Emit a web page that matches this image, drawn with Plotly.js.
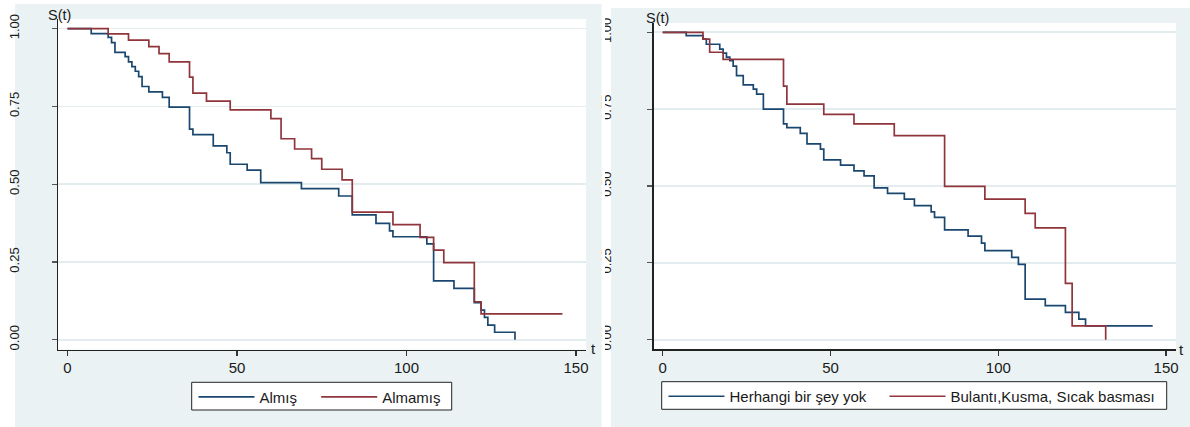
<!DOCTYPE html>
<html>
<head>
<meta charset="utf-8">
<script src="https://cdn.plot.ly/plotly-3.0.1.min.js"></script>
<style>
  html, body { margin: 0; padding: 0; background: #ffffff; }
  #chart { width: 1190px; height: 427px; }
</style>
</head>
<body>
<div id="chart"></div>
<script>
// Kaplan-Meier survival estimates, S(t) by group

// Left panel: Almış / Almamış
const almisT = [0, 7, 12, 13, 14, 17, 18, 19, 20, 21, 22, 24, 28, 30, 36, 37, 43, 47, 48, 53, 57, 69, 80, 84, 91, 95, 96, 106, 108, 114, 120, 122, 123, 124, 126, 132];
const almisS = [1, 0.984, 0.972, 0.955, 0.924, 0.910, 0.893, 0.878, 0.863, 0.846, 0.814, 0.797, 0.779, 0.748, 0.677, 0.659, 0.623, 0.601, 0.564, 0.545, 0.505, 0.486, 0.462, 0.401, 0.374, 0.350, 0.331, 0.308, 0.189, 0.165, 0.119, 0.095, 0.072, 0.047, 0.024, 0];

const almamisT = [0, 12, 18, 24, 27, 30, 36, 37, 41, 48, 60, 63, 67, 72, 75, 81, 84, 96, 104, 108, 111, 120, 122, 146];
const almamisS = [1, 0.983, 0.963, 0.942, 0.920, 0.893, 0.844, 0.793, 0.767, 0.739, 0.711, 0.646, 0.613, 0.582, 0.548, 0.514, 0.410, 0.370, 0.329, 0.288, 0.248, 0.122, 0.083, 0.083];

// Right panel: Herhangi bir şey yok / Bulantı,Kusma, Sıcak basması
const yokT = [0, 7, 12, 13, 17, 18, 19, 20, 21, 22, 24, 27, 28, 30, 36, 37, 41, 43, 47, 48, 53, 57, 60, 63, 67, 72, 75, 80, 81, 84, 91, 95, 96, 104, 106, 108, 114, 120, 124, 126, 146];
const yokS = [1, 0.989, 0.978, 0.961, 0.945, 0.932, 0.919, 0.908, 0.890, 0.859, 0.829, 0.815, 0.799, 0.750, 0.702, 0.690, 0.671, 0.637, 0.620, 0.585, 0.568, 0.549, 0.533, 0.494, 0.476, 0.457, 0.436, 0.416, 0.398, 0.357, 0.337, 0.314, 0.290, 0.268, 0.245, 0.132, 0.111, 0.089, 0.067, 0.045, 0.045];

const bulantiT = [0, 12, 14, 18, 36, 37, 48, 57, 69, 84, 96, 108, 111, 120, 122, 132];
const bulantiS = [1, 0.978, 0.935, 0.912, 0.825, 0.766, 0.733, 0.702, 0.664, 0.499, 0.457, 0.411, 0.364, 0.183, 0.045, 0];

const seriesNames = ['Almış', 'Almamış', 'Herhangi bir şey yok', 'Bulantı,Kusma, Sıcak basması'];

const xTicks = [0, 50, 100, 150];
const yTicks = [0, 0.25, 0.5, 0.75, 1];
const yTickText = ['0.00', '0.25', '0.50', '0.75', '1.00'];

const NAVY = '#1a476f';
const MAROON = '#90353b';
const PANEL_BG = '#eaf2f3';
const FONT = 'Arial, "Liberation Sans", sans-serif';

const W = 1190, H = 427;
const px = v => v / W;
const py = v => (H - v) / H;

function stepTrace(x, y, name, color, xa, ya, legend) {
  return {
    type: 'scatter', mode: 'lines', x: x, y: y, name: name,
    line: { shape: 'hv', color: color, width: 1.7 },
    xaxis: xa, yaxis: ya, legend: legend, hoverinfo: 'skip'
  };
}

const traces = [
  stepTrace(almisT, almisS, seriesNames[0], NAVY, 'x', 'y', 'legend'),
  stepTrace(almamisT, almamisS, seriesNames[1], MAROON, 'x', 'y', 'legend2'),
  stepTrace(yokT, yokS, seriesNames[2], NAVY, 'x2', 'y2', 'legend3'),
  stepTrace(bulantiT, bulantiS, seriesNames[3], MAROON, 'x2', 'y2', 'legend4')
];

function xAxis(domain, range, anchor) {
  return {
    domain: domain, range: range, anchor: anchor,
    tickmode: 'array', tickvals: xTicks, ticks: 'outside', ticklen: 5, tickwidth: 1.2, tickcolor: '#333',
    showline: true, linecolor: '#222', linewidth: 1.3, showgrid: false, zeroline: false,
    ticklabelstandoff: -1,
    tickfont: { family: FONT, size: 15, color: '#1a1a1a' }, fixedrange: true
  };
}
function yAxis(domain, range, anchor, standoff) {
  return {
    domain: domain, range: range, anchor: anchor,
    tickmode: 'array', tickvals: yTicks, ticktext: yTickText, tickangle: -90,
    ticks: 'outside', ticklen: 5, tickwidth: 1.2, tickcolor: '#555',
    showline: true, linecolor: '#222', linewidth: 1.3,
    showgrid: true, gridcolor: '#e3ecef', gridwidth: 1.6, zeroline: false,
    ticklabelstandoff: standoff,
    tickfont: { family: FONT, size: 13, color: '#1a1a1a' }, fixedrange: true
  };
}

// one legend entry per series; the framed boxes are drawn as shapes
function legendEntry(lineStart, lineY) {
  return {
    x: px(lineStart - 5.5), y: py(lineY - 15.7), xanchor: 'left', yanchor: 'top', orientation: 'h',
    bgcolor: 'rgba(0,0,0,0)', borderwidth: 0,
    font: { family: FONT, size: 15, color: '#1a1a1a' }, itemwidth: 56
  };
}

function frame(x0, x1, y0, y1) {
  return { type: 'rect', layer: 'above', xref: 'paper', yref: 'paper', x0: px(x0), x1: px(x1), y0: py(y1), y1: py(y0),
           fillcolor: '#ffffff', line: { color: '#222', width: 1 } };
}

const layout = {
  width: W, height: H,
  margin: { l: 0, r: 0, t: 0, b: 0 },
  paper_bgcolor: '#ffffff', plot_bgcolor: 'rgba(255,255,255,1)',
  font: { family: FONT, size: 15, color: '#1a1a1a' },
  xaxis: xAxis([px(58), px(586)], [-2.80, 152.95], 'y'),
  yaxis: yAxis([py(349.5), py(19)], [-0.0315, 1.031], 'x', 28),
  xaxis2: xAxis([px(653.7), px(1176)], [-2.68, 152.95], 'y2'),
  yaxis2: yAxis([py(349.3), py(23)], [-0.0312, 1.0302], 'x2', 31),
  showlegend: true,
  legend: legendEntry(199, 396.3),
  legend2: legendEntry(321.7, 396.3),
  legend3: legendEntry(669, 395.7),
  legend4: legendEntry(890, 395.7),
  shapes: [
    // panel backgrounds
    { type: 'rect', layer: 'below', xref: 'paper', yref: 'paper', x0: px(15), x1: px(601.7), y0: 0, y1: py(4), fillcolor: PANEL_BG, line: { width: 0 } },
    { type: 'rect', layer: 'below', xref: 'paper', yref: 'paper', x0: px(611), x1: 1, y0: 0, y1: py(8), fillcolor: PANEL_BG, line: { width: 0 } },
    // white plot regions
    { type: 'rect', layer: 'below', xref: 'x domain', yref: 'y domain', x0: 0, x1: 1, y0: 0, y1: 1, fillcolor: '#ffffff', line: { width: 0 } },
    { type: 'rect', layer: 'below', xref: 'x2 domain', yref: 'y2 domain', x0: 0, x1: 1, y0: 0, y1: 1, fillcolor: '#ffffff', line: { width: 0 } },
    // trimmed edges of the panels
    { type: 'rect', layer: 'above', xref: 'paper', yref: 'paper', x0: 0, x1: px(8.2), y0: 0, y1: 1, fillcolor: '#ffffff', line: { width: 0 } },
    { type: 'rect', layer: 'above', xref: 'paper', yref: 'paper', x0: px(601.8), x1: px(605), y0: 0, y1: 1, fillcolor: '#ffffff', line: { width: 0 } },
    // legend frames
    frame(191.7, 451.7, 382.3, 410),
    frame(661.7, 1166.7, 381.7, 409.3)
  ],
  annotations: [
    { text: 'S(t)', xref: 'paper', yref: 'paper', x: px(46), y: py(15), xanchor: 'left', yanchor: 'middle', showarrow: false, font: { family: FONT, size: 14.5, color: '#1a1a1a' } },
    { text: 't', xref: 'paper', yref: 'paper', x: px(588.5), y: py(348), xanchor: 'left', yanchor: 'middle', showarrow: false, font: { family: FONT, size: 15, color: '#1a1a1a' } },
    { text: 'S(t)', xref: 'paper', yref: 'paper', x: px(643.5), y: py(18.3), xanchor: 'left', yanchor: 'middle', showarrow: false, font: { family: FONT, size: 14.5, color: '#1a1a1a' } },
    { text: 't', xref: 'paper', yref: 'paper', x: px(1177), y: py(349), xanchor: 'left', yanchor: 'middle', showarrow: false, font: { family: FONT, size: 15, color: '#1a1a1a' } }
  ]
};

Plotly.newPlot('chart', traces, layout, { staticPlot: true, displayModeBar: false });
</script>
</body>
</html>
